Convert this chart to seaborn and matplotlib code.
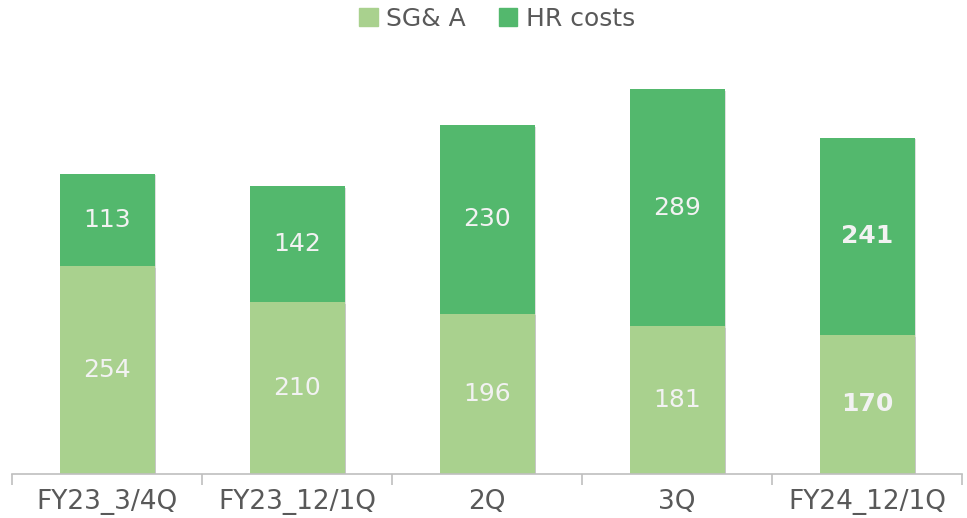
import matplotlib
matplotlib.use("Agg")
import matplotlib.pyplot as plt
import matplotlib.patheffects as pe
from matplotlib.patches import Patch
import numpy as np
import pandas as pd
import seaborn as sns

categories = ["FY23_3/4Q", "FY23_12/1Q", "2Q", "3Q", "FY24_12/1Q"]
sga = [254, 210, 196, 181, 170]
hr_costs = [113, 142, 230, 289, 241]
bold_last = [False, False, False, False, True]

LIGHT = "#A9D18E"
DARK = "#53B86D"
TEXT = "#595959"

df = pd.DataFrame({"period": categories, "sga": sga, "hr": hr_costs})
df["total"] = df["sga"] + df["hr"]

sns.set_theme(style="white")
plt.rcParams["font.family"] = ["DejaVu Sans"]

fig = plt.figure(figsize=(9.67, 5.18), dpi=100)
ax = fig.add_axes([12 / 967, 44 / 518, 950 / 967, 0.79])

shadow = [pe.SimplePatchShadow(offset=(1.2, -1.2), alpha=0.25, shadow_rgbFace="#808080"), pe.Normal()]
sns.barplot(data=df, x="period", y="total", color=DARK, saturation=1, width=0.5, ax=ax)
sns.barplot(data=df, x="period", y="sga", color=LIGHT, saturation=1, width=0.5, ax=ax)
for p in ax.patches:
    p.set_linewidth(0)
    p.set_path_effects(shadow)

for i, row in df.iterrows():
    weight = "bold" if bold_last[i] else "normal"
    ax.text(i, row["sga"] / 2, f"{row['sga']}", ha="center", va="center",
            color="#F2F2F2", fontsize=18, fontweight=weight)
    ax.text(i, row["sga"] + row["hr"] / 2, f"{row['hr']}", ha="center", va="center",
            color="#F2F2F2", fontsize=18, fontweight=weight)

ax.set_xlim(-0.5, len(categories) - 0.5)
ax.set_ylim(0, 500)
ax.set_xlabel("")
ax.set_ylabel("")
ax.set_yticks([])
for s in ["top", "right", "left"]:
    ax.spines[s].set_visible(False)
ax.spines["bottom"].set_color("#BFBFBF")
ax.spines["bottom"].set_linewidth(1.2)

ax.set_xticks(range(len(categories)))
ax.set_xticklabels(categories, fontsize=19, color=TEXT)
ax.set_xticks(np.arange(-0.5, len(categories)), minor=True)
ax.tick_params(axis="x", which="major", length=0, pad=11)
ax.tick_params(axis="x", which="minor", length=8, color="#BFBFBF", width=1.2, bottom=True)

handles = [Patch(color=LIGHT, label="SG& A"), Patch(color=DARK, label="HR costs")]
fig.legend(handles=handles, loc="center", bbox_to_anchor=(497 / 967, 1 - 19 / 518), ncol=2,
           frameon=False, fontsize=18, handlelength=0.75, handleheight=0.75,
           handletextpad=0.35, columnspacing=1.3, labelcolor=TEXT)

fig.savefig("out.png", dpi=100)
